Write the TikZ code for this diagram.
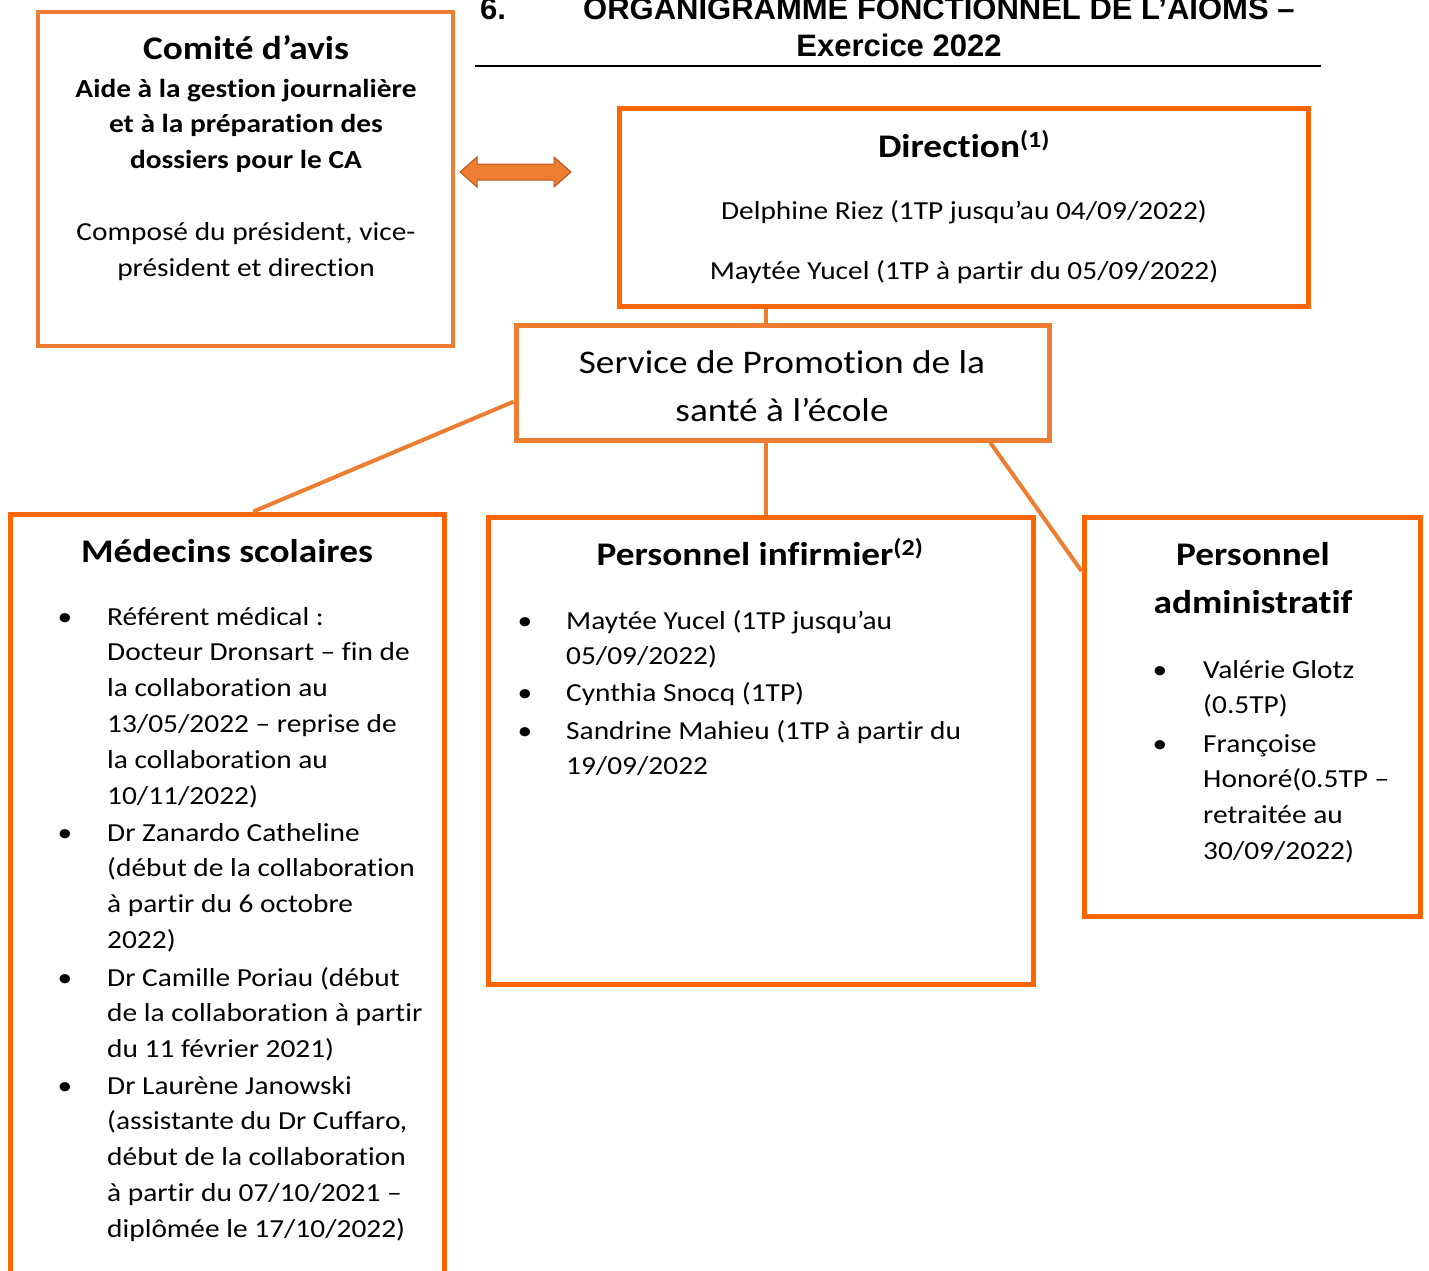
\documentclass[tikz,border=0pt]{standalone}
\usepackage{fontspec}
\setmainfont[FakeStretch=1.13, RawFeature={-liga}]{Carlito}
\newfontfamily\titlefont{Liberation Sans}
\usetikzlibrary{positioning, calc}

\definecolor{lightor}{HTML}{ED7D31}
\definecolor{brightor}{HTML}{FF6600}
\definecolor{arrowedge}{HTML}{B5581E}

\newcommand{\txtbody}{\fontsize{26}{35.8}\selectfont}
\newcommand{\txtbold}{\fontsize{26}{35.5}\selectfont\bfseries}
\newcommand{\txthead}{\fontsize{33}{48}\selectfont\bfseries}
\newcommand{\txtsvc}{\fontsize{33}{48}\selectfont}
\newcommand{\txttitle}{\titlefont\fontsize{31}{37}\selectfont\bfseries}

\begin{document}
\begin{tikzpicture}[
		x=1pt, y=-1pt,
		box/.style={draw, rectangle, inner sep=0pt, line width=5pt},
		lightbox/.style={box, lightor},
		brightbox/.style={box, brightor},
		txt/.style={inner sep=0pt, anchor=base, font=\txtbody, align=center},
		item/.style={inner sep=0pt, anchor=base west, font=\txtbody, align=left},
		bul/.style={inner sep=0pt, anchor=base, font=\txtbody},
		conn/.style={lightor, line width=4pt}
	]
	\useasboundingbox (0,0) rectangle (1429,1270);

	% title (multi-line nodes sit on their last baseline)
	\node[inner sep=0pt, anchor=base west, font=\txttitle] (num) at (480,19) {6.};
	\node[inner sep=0pt, anchor=base west, font=\txttitle] (title) at (583,19) {ORGANIGRAMME FONCTIONNEL DE L’AIOMS –};
	\node[inner sep=0pt, anchor=base, font=\txttitle] (year) at (899,56) {Exercice 2022};
	\coordinate (ruleL) at (475,66);
	\coordinate (ruleR) at (1321,66);
	\draw[line width=2pt] (ruleL) -- (ruleR);

	% boxes
	\node[lightbox, line width=4pt, minimum width=415, minimum height=334] (comite) at (245.5,179) {};
	\node[brightbox, minimum width=689, minimum height=198] (dir) at (963.5,207) {};
	\node[lightbox, minimum width=533, minimum height=115] (svc) at (782.5,382.5) {};
	\node[brightbox, minimum width=434, minimum height=800] (med) at (227,914) {};
	\node[brightbox, minimum width=545, minimum height=467] (inf) at (760.5,750.5) {};
	\node[brightbox, minimum width=336, minimum height=399] (adm) at (1252,716.5) {};

	% comite
	\node[txt, font=\fontsize{33}{48}\selectfont\bfseries] (comT) at (246,59) {Comité d’avis};
	\node[txt, font=\txtbold] (comR) at (246,168) {Aide à la gestion journalière\\et à la préparation des\\dossiers pour le CA};
	\node[txt] (comC) at (246,276.5) {Composé du président, vice-\\président et direction};

	% double arrow
	\draw[fill=lightor, draw=arrowedge, line width=1pt]
		(460,172) -- (477,157) -- (477,164) -- (554,164) -- (554,157) -- (571,172)
		-- (554,187) -- (554,180) -- (477,180) -- (477,187) -- cycle;

	% direction
	\node[txt, font=\txthead] (dirT) at (964,157) {Direction\textsuperscript{(1)}};
	\node[txt] (dir1) at (964,219) {Delphine Riez (1TP jusqu’au 04/09/2022)};
	\node[txt] (dir2) at (964,279) {Maytée Yucel (1TP à partir du 05/09/2022)};

	% service
	\node[txt, font=\txtsvc] (svcT) at (782,421) {Service de Promotion de la\\santé à l’école};

	% medecins scolaires
	\node[txt, font=\txthead] (medT) at (227,562) {Médecins scolaires};
	\node[bul] (medB1) at (65,625) {\textbullet};
	\node[item] (med1) at (107,804) {Référent médical :\\Docteur Dronsart – fin de\\la collaboration au\\13/05/2022 – reprise de\\la collaboration au\\10/11/2022)};
	\node[bul] (medB2) at (65,841) {\textbullet};
	\node[item] (med2) at (107,948.4) {Dr Zanardo Catheline\\(début de la collaboration\\à partir du 6 octobre\\2022)};
	\node[bul] (medB3) at (65,986) {\textbullet};
	\node[item] (med3) at (107,1057.6) {Dr Camille Poriau (début\\de la collaboration à partir\\du 11 février 2021)};
	\node[bul] (medB4) at (65,1094) {\textbullet};
	\node[item] (med4) at (107,1237.2) {Dr Laurène Janowski\\(assistante du Dr Cuffaro,\\début de la collaboration\\à partir du 07/10/2021 –\\diplômée le 17/10/2022)};

	% personnel infirmier
	\node[txt, font=\txthead] (infT) at (760,565) {Personnel infirmier\textsuperscript{(2)}};
	\node[bul] (infB1) at (525,629) {\textbullet};
	\node[item] (inf1) at (566,664.8) {Maytée Yucel (1TP jusqu’au\\05/09/2022)};
	\node[bul] (infB2) at (525,701) {\textbullet};
	\node[item] (inf2) at (566,701) {Cynthia Snocq (1TP)};
	\node[bul] (infB3) at (525,739) {\textbullet};
	\node[item] (inf3) at (566,774.8) {Sandrine Mahieu (1TP à partir du\\19/09/2022};

	% personnel administratif
	\node[txt, font=\txthead] (admT) at (1253,613) {Personnel\\administratif};
	\node[bul] (admB1) at (1160,678) {\textbullet};
	\node[item] (adm1) at (1203,713.8) {Valérie Glotz\\(0.5TP)};
	\node[bul] (admB2) at (1160,752) {\textbullet};
	\node[item] (adm2) at (1203,859.4) {Françoise\\Honoré(0.5TP –\\retraitée au\\30/09/2022)};

	% links
	\coordinate (svcTop) at ($(svc.north west)!.47!(svc.north east)$);
	\coordinate (svcBot) at ($(svc.south west)!.47!(svc.south east)$);
	\coordinate (svcLeft) at ($(svc.north west)!.66!(svc.south west)$);
	\coordinate (svcRight) at ($(svc.south west)!.886!(svc.south east)$);
	\coordinate (medTop) at ($(med.north west)!.56!(med.north east)$);
	\coordinate (admLeft) at ($(adm.north west)!.14!(adm.south west)$);
	\draw[conn] (svcTop) -- (svcTop |- dir.south);
	\draw[conn] (svcLeft) -- (medTop);
	\draw[conn] (svcBot) -- (svcBot |- inf.north);
	\draw[conn] (svcRight) -- (admLeft);
\end{tikzpicture}
\end{document}
